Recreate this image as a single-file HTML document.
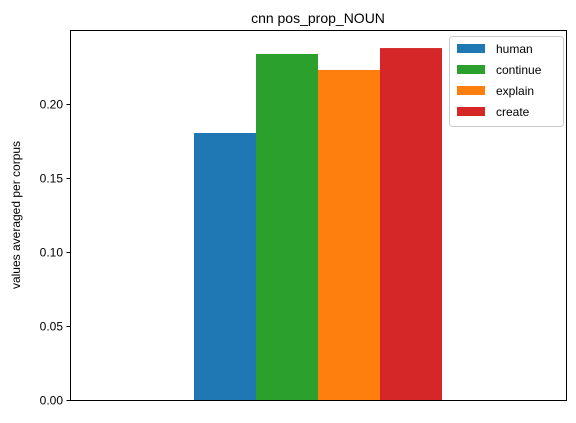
<!DOCTYPE html>
<html><head><meta charset="utf-8"><style>
body{margin:0;background:#fff;}
text{font-family:"Liberation Sans",sans-serif;}
</style></head><body>
<svg id="chart" width="576" height="418" xmlns="http://www.w3.org/2000/svg">
<text x="318" y="23" text-anchor="middle" font-size="14">cnn pos_prop_NOUN</text>
<g id="bars"></g>
<g id="yticks"></g>
<rect x="70.5" y="30.5" width="496" height="370" fill="none" stroke="#000" stroke-width="1"/>
<text transform="translate(20,215) rotate(-90)" text-anchor="middle" font-size="12">values averaged per corpus</text>
<g id="legend"></g>
</svg>
<script>
const series = ["human","continue","explain","create"];
const values = [0.1804,0.2338,0.2230,0.2378];
const colors = ["#1f77b4","#2ca02c","#ff7f0e","#d62728"];
const yTicks = [0,0.05,0.10,0.15,0.20];
const yTickLabels = ["0.00","0.05","0.10","0.15","0.20"];
const L=70,R=566,T=30,B=400,yMax=0.25;
const y=v=>B-(v/yMax)*(B-T);
const x=v=>L+(v+0.5)*(R-L);
const ns="http://www.w3.org/2000/svg";
const bw=0.125;
const bars=document.getElementById('bars');
series.forEach((s,i)=>{
  const r=document.createElementNS(ns,'rect');
  const x0=x(-0.25+i*bw);
  r.setAttribute('x',x0);r.setAttribute('width',x(-0.25+(i+1)*bw)-x0);
  r.setAttribute('y',y(values[i]));r.setAttribute('height',B-y(values[i]));
  r.setAttribute('fill',colors[i]);
  
  
  bars.appendChild(r);
});
const yt=document.getElementById('yticks');
yTicks.forEach((t,i)=>{
  const l=document.createElementNS(ns,'line');
  l.setAttribute('x1',L-3.5);l.setAttribute('x2',L);l.setAttribute('y1',y(t)+0.5);l.setAttribute('y2',y(t)+0.5);l.setAttribute('stroke','#000');
  
  
  yt.appendChild(l);
  const tx=document.createElementNS(ns,'text');
  tx.setAttribute('x',L-7);tx.setAttribute('y',y(t)+4.5);tx.setAttribute('text-anchor','end');tx.setAttribute('font-size','12');
  tx.textContent=yTickLabels[i];
  
  
  yt.appendChild(tx);
});
const lg=document.getElementById('legend');
const box=document.createElementNS(ns,'rect');
box.setAttribute('x',449.5);box.setAttribute('y',36.5);box.setAttribute('width',114);box.setAttribute('height',90);box.setAttribute('rx',3);
box.setAttribute('fill','#fff');box.setAttribute('fill-opacity','0.8');box.setAttribute('stroke','#ccc');


lg.appendChild(box);
series.forEach((s,i)=>{
  const cy=48+i*21;
  const sw=document.createElementNS(ns,'rect');
  sw.setAttribute('x',457);sw.setAttribute('y',cy-4);sw.setAttribute('width',28);sw.setAttribute('height',9);sw.setAttribute('fill',colors[i]);
  
  
  lg.appendChild(sw);
  const t=document.createElementNS(ns,'text');
  t.setAttribute('x',496);t.setAttribute('y',cy+5);t.setAttribute('font-size','12');t.textContent=s;
  
  
  lg.appendChild(t);
});
</script>
</body></html>
